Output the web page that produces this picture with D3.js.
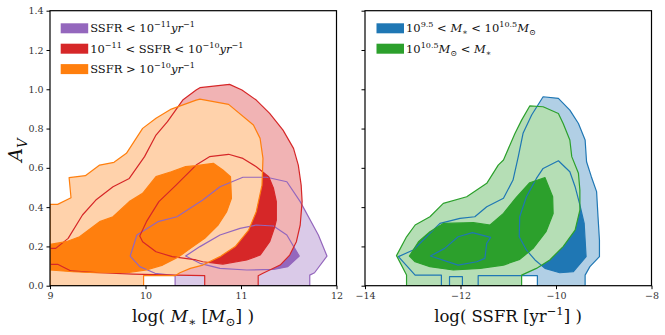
<!DOCTYPE html>
<html><head><meta charset="utf-8">
<script src="https://cdn.jsdelivr.net/npm/d3@7"></script>
<style>body{margin:0;background:#fff}svg{display:block}text{white-space:pre}</style>
</head><body>
<script>
// ---------- DATA (data units) ----------
// Left panel: A_V vs log(M*), three SSFR classes (outer = lower density level, inner = higher)
const purpleOuter = [[9.91,0.258],[9.84,0.151],[9.94,0.097],[10.10,0.063],[10.31,0.051],[10.31,0],[11.72,0],[11.72,0.054],[11.77,0.066],[11.90,0.151],[11.81,0.258],[11.62,0.428],[11.48,0.529],[11.27,0.552],[11.02,0.552],[10.78,0.504],[10.60,0.436],[10.33,0.351],[10.13,0.326]];
const purpleInner = [[10.42,0.151],[10.57,0.199],[10.78,0.258],[10.99,0.292],[11.16,0.309],[11.34,0.304],[11.48,0.258],[11.61,0.151],[11.49,0.097],[11.34,0.083],[11.06,0.080],[10.78,0.088],[10.57,0.114]];
const redOuter = [[9.0,0.190],[9.06,0.190],[9.19,0.241],[9.34,0.360],[9.48,0.436],[9.66,0.504],[9.83,0.546],[9.99,0.657],[10.11,0.767],[10.23,0.835],[10.39,0.945],[10.53,0.996],[10.57,1.008],[10.88,1.025],[11.01,0.996],[11.16,0.945],[11.30,0.877],[11.44,0.792],[11.55,0.699],[11.60,0.614],[11.63,0.512],[11.64,0.428],[11.62,0.309],[11.58,0.224],[11.51,0.156],[11.41,0.105],[11.23,0.063],[11.18,0.051],[11.18,0],[10.62,0],[10.62,0.051],[10.31,0.054],[9.87,0.059],[9.52,0.066],[9.22,0.075],[9.08,0.109],[9.0,0.109]];
const redInner = [[9.94,0.253],[10.01,0.326],[10.14,0.428],[10.32,0.512],[10.53,0.614],[10.67,0.657],[10.87,0.669],[11.02,0.648],[11.16,0.606],[11.29,0.555],[11.34,0.496],[11.37,0.428],[11.37,0.334],[11.35,0.295],[11.30,0.224],[11.20,0.156],[11.06,0.131],[10.81,0.110],[10.60,0.122],[10.53,0.131],[10.28,0.148],[10.11,0.173],[9.97,0.224]];
const orangeOuter = [[9.0,0.414],[9.08,0.414],[9.22,0.448],[9.20,0.550],[9.37,0.560],[9.52,0.614],[9.67,0.628],[9.80,0.674],[9.97,0.801],[10.11,0.852],[10.27,0.899],[10.53,0.945],[10.57,0.950],[10.87,0.923],[11.13,0.818],[11.20,0.750],[11.23,0.648],[11.22,0.512],[11.16,0.377],[11.08,0.283],[10.94,0.199],[10.78,0.148],[10.60,0.105],[10.47,0.088],[10.36,0.066],[10.31,0.051],[9.98,0.051],[9.98,0],[9.0,0]];
const orangeInner = [[9.0,0.210],[9.17,0.224],[9.31,0.249],[9.52,0.326],[9.66,0.351],[9.83,0.428],[9.97,0.470],[10.11,0.555],[10.27,0.580],[10.42,0.606],[10.53,0.611],[10.71,0.623],[10.81,0.589],[10.89,0.555],[10.90,0.445],[10.85,0.377],[10.76,0.309],[10.62,0.241],[10.47,0.190],[10.35,0.148],[10.18,0.105],[10.01,0.080],[9.83,0.068],[9.48,0.066],[9.24,0.071],[9.0,0.080]];
// Right panel: A_V vs log(SSFR), two mass classes
const blueOuter = [[-13.30,0.148],[-12.99,0.182],[-12.43,0.317],[-12.01,0.343],[-11.70,0.351],[-11.45,0.402],[-11.10,0.445],[-10.90,0.538],[-10.79,0.657],[-10.69,0.776],[-10.51,0.869],[-10.27,0.962],[-9.95,0.954],[-9.71,0.894],[-9.53,0.826],[-9.39,0.742],[-9.36,0.631],[-9.26,0.555],[-9.15,0.479],[-9.12,0.351],[-9.09,0.232],[-9.09,0.148],[-9.29,0.097],[-9.39,0.054],[-9.39,0],[-10.39,0],[-10.39,0.051],[-11.63,0.051],[-11.63,0],[-11.96,0],[-11.96,0.046],[-12.23,0.046],[-12.23,0],[-12.40,0],[-12.40,0.054],[-12.95,0.054]];
const blueInnerA = [[-12.63,0.151],[-12.33,0.190],[-12.05,0.249],[-11.75,0.270],[-11.37,0.246],[-11.45,0.216],[-11.49,0.139],[-11.66,0.122],[-12.05,0.105]];
const blueInnerB = [[-10.27,0.597],[-9.95,0.636],[-9.71,0.580],[-9.60,0.504],[-9.50,0.411],[-9.41,0.317],[-9.37,0.148],[-9.64,0.071],[-9.92,0.066],[-10.23,0.088],[-10.44,0.131],[-10.62,0.182],[-10.77,0.249],[-10.76,0.351],[-10.62,0.453],[-10.41,0.546]];
const greenOuter = [[-13.34,0.153],[-13.13,0.249],[-12.95,0.309],[-12.64,0.351],[-12.36,0.419],[-11.87,0.453],[-11.45,0.521],[-11.21,0.614],[-11.10,0.640],[-10.86,0.775],[-10.72,0.843],[-10.55,0.915],[-10.27,0.911],[-9.95,0.877],[-9.85,0.826],[-9.71,0.742],[-9.67,0.657],[-9.53,0.572],[-9.50,0.487],[-9.50,0.385],[-9.60,0.283],[-9.85,0.199],[-10.13,0.131],[-10.41,0.088],[-10.72,0.054],[-10.72,0],[-13.13,0],[-13.13,0.054]];
const greenInner = [[-13.07,0.151],[-12.88,0.224],[-12.64,0.275],[-12.36,0.317],[-11.73,0.321],[-11.38,0.309],[-11.10,0.368],[-10.83,0.450],[-10.55,0.524],[-10.23,0.550],[-10.07,0.453],[-10.06,0.368],[-10.21,0.275],[-10.48,0.190],[-10.76,0.134],[-11.10,0.105],[-11.59,0.088],[-12.15,0.080],[-12.64,0.097],[-12.95,0.122]];

const yTicks = [0,0.2,0.4,0.6,0.8,1.0,1.2,1.4];
const xTicksL = [9,10,11,12];
const xTicksR = [-14,-12,-10,-8];

// ---------- STYLE ----------
const C = {purple:'#9467bd', red:'#d62728', orange:'#ff7f0e', blue:'#1f77b4', green:'#2ca02c'};
function light(c){const k=d3.rgb(c),a=0.35;return d3.rgb(k.r*a+255*(1-a),k.g*a+255*(1-a),k.b*a+255*(1-a)).formatHex();}
const SERIF = "'DejaVu Serif', 'Liberation Serif', serif";

const W=665,H=335;
const svg = d3.select('body').append('svg').attr('width',W).attr('height',H);
const y = d3.scaleLinear().domain([0,1.4]).range([285.7,10.7]);
const xL = d3.scaleLinear().domain([9,12]).range([50,336.5]);
const xR = d3.scaleLinear().domain([-14,-8]).range([365,651.5]);

function mathText(g,x,yy,segs,size,anchor){
  const t=g.append('text').attr('x',x).attr('y',yy).attr('font-size',size)
    .attr('font-family',SERIF).attr('fill','#111').attr('text-anchor',anchor||'start');
  let cur=0;
  segs.forEach(s=>{
    const sh = s.sh==='sup' ? -0.42*size : s.sh==='sub' ? 0.25*size : 0;
    const ts=t.append('tspan').text(s.t).attr('dy',sh-cur);
    cur=sh;
    if(s.sh) ts.attr('font-size',size*0.7);
    if(s.it) ts.attr('font-style','italic');
  });
  return t;
}

function panel(id,x,groups,ticks,showY){
  const g=svg.append('g');
  svg.append('clipPath').attr('id',id).append('rect')
    .attr('x',x.range()[0]).attr('y',y.range()[1])
    .attr('width',x.range()[1]-x.range()[0]).attr('height',y.range()[0]-y.range()[1]);
  const plot=g.append('g').attr('clip-path',`url(#${id})`);
  const line=d3.line().x(d=>x(d[0])).y(d=>y(d[1])).curve(d3.curveLinearClosed);
  // fills
  groups.forEach(gr=>{
    plot.append('path').attr('d',line(gr.outer)).attr('fill',light(gr.c));
    gr.inner.forEach(p=>plot.append('path').attr('d',line(p)).attr('fill',gr.c));
  });
  // contour lines
  groups.forEach(gr=>{
    [gr.outer,...gr.inner].forEach(p=>plot.append('path').attr('d',line(p))
      .attr('fill','none').attr('stroke',gr.c).attr('stroke-width',1.2).attr('stroke-linejoin','round'));
  });
  // axes
  const ya=d3.axisLeft(y).tickValues(yTicks).tickSize(3.5).tickPadding(3)
    .tickFormat(showY?d3.format('.1f'):'');
  const ga=g.append('g').attr('transform',`translate(${x.range()[0]},0)`).call(ya);
  const xa=d3.axisBottom(x).tickValues(ticks).tickSize(3.5).tickPadding(3).tickFormat(d3.format('d'));
  const gx=g.append('g').attr('transform',`translate(0,${y.range()[0]})`).call(xa);
  [ga,gx].forEach(a=>{
    a.select('.domain').remove();
    a.selectAll('text').attr('font-family',SERIF).attr('font-size',9.5).attr('fill','#333');
    a.selectAll('line').attr('stroke','#000');
  });
  g.append('rect').attr('x',x.range()[0]).attr('y',y.range()[1])
    .attr('width',x.range()[1]-x.range()[0]).attr('height',y.range()[0]-y.range()[1])
    .attr('fill','none').attr('stroke','#000').attr('stroke-width',1.2);
  return g;
}

panel('cl',xL,[
  {c:C.purple,outer:purpleOuter,inner:[purpleInner]},
  {c:C.red,outer:redOuter,inner:[redInner]},
  {c:C.orange,outer:orangeOuter,inner:[orangeInner]}
],xTicksL,true);
panel('cr',xR,[
  {c:C.blue,outer:blueOuter,inner:[blueInnerA,blueInnerB]},
  {c:C.green,outer:greenOuter,inner:[greenInner]}
],xTicksR,false);

// legends
const legL=[
  {c:C.purple,segs:[{t:'SSFR < 10'},{t:'−11',sh:'sup'},{t:'yr',it:1},{t:'−1',sh:'sup'}]},
  {c:C.red,segs:[{t:'10'},{t:'−11',sh:'sup'},{t:' < SSFR < 10'},{t:'−10',sh:'sup'},{t:'yr',it:1},{t:'−1',sh:'sup'}]},
  {c:C.orange,segs:[{t:'SSFR > 10'},{t:'−10',sh:'sup'},{t:'yr',it:1},{t:'−1',sh:'sup'}]}
];
const legR=[
  {c:C.blue,segs:[{t:'10'},{t:'9.5',sh:'sup'},{t:' < '},{t:'M',it:1},{t:'∗',sh:'sub'},{t:' < 10'},{t:'10.5',sh:'sup'},{t:'M',it:1},{t:'⊙',sh:'sub'}]},
  {c:C.green,segs:[{t:'10'},{t:'10.5',sh:'sup'},{t:'M',it:1},{t:'⊙',sh:'sub'},{t:' < '},{t:'M',it:1},{t:'∗',sh:'sub'}]}
];
function legend(items,x0){
  items.forEach((it,i)=>{
    const yy=23.3+i*20.4;
    svg.append('rect').attr('x',x0).attr('y',yy).attr('width',27.5).attr('height',10).attr('fill',it.c);
    mathText(svg,x0+29.5,yy+9,it.segs,11.5);
  });
}
legend(legL,60.7);
legend(legR,376.5);

// axis labels
mathText(svg,193,322,[{t:'log( '},{t:'M',it:1},{t:'∗',sh:'sub'},{t:' ['},{t:'M',it:1},{t:'⊙',sh:'sub'},{t:'] )'}],17,'middle');
mathText(svg,508,322,[{t:'log( SSFR [yr'},{t:'−1',sh:'sup'},{t:'] )'}],16.5,'middle');
const av=mathText(svg,0,0,[{t:'A',it:1},{t:'V',it:1,sh:'sub'}],19,'middle');
av.attr('transform','translate(22,150) rotate(-90)');
</script>
</body></html>
